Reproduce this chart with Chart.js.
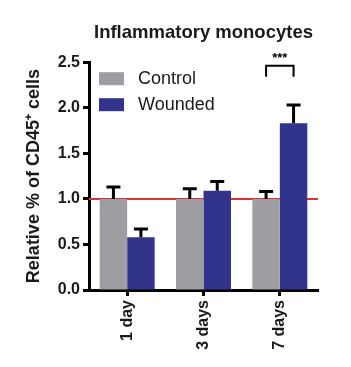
<!DOCTYPE html>
<html>
<head>
<meta charset="utf-8">
<script src="https://cdn.jsdelivr.net/npm/chart.js@4/dist/chart.umd.min.js"></script>
<style>
  body { margin: 0; background: #fff; }
  #wrap { width: 351px; height: 367px; position: relative; }
</style>
</head>
<body>
<div id="wrap"><canvas id="myChart"></canvas></div>
<script>
  const categories = ['1 day', '3 days', '7 days'];
  const control = [1.0, 1.0, 1.0];
  const controlErr = [0.13, 0.11, 0.08];
  const wounded = [0.58, 1.09, 1.83];
  const woundedErr = [0.09, 0.10, 0.20];
  const yTicks = [0, 0.5, 1.0, 1.5, 2.0, 2.5];
  const refLevel = 1.0;
  // significance bracket on 7 days
  const sigIndex = 2;
  const sigTop = 2.46, sigLeg = 2.34, sigText = '***';

  const FONT = '"Liberation Sans", Arial, sans-serif';

  const extras = {
    id: 'extras',
    beforeDatasetsDraw(chart) {
      const { ctx, chartArea, scales: { y } } = chart;
      const yp = y.getPixelForValue(refLevel);
      ctx.save();
      ctx.strokeStyle = '#dc3236';
      ctx.lineWidth = 2;
      ctx.beginPath();
      ctx.moveTo(chartArea.left, yp);
      ctx.lineTo(chartArea.right, yp);
      ctx.stroke();
      ctx.restore();
    },
    afterDatasetsDraw(chart) {
      const { ctx, scales: { y } } = chart;
      const errs = [controlErr, woundedErr];
      ctx.save();
      ctx.strokeStyle = '#000';
      ctx.lineWidth = 3;
      chart.data.datasets.forEach((ds, di) => {
        const meta = chart.getDatasetMeta(di);
        meta.data.forEach((bar, i) => {
          const top = y.getPixelForValue(ds.data[i] + errs[di][i]);
          const base = y.getPixelForValue(ds.data[i]);
          ctx.beginPath();
          ctx.moveTo(bar.x, base);
          ctx.lineTo(bar.x, top);
          ctx.moveTo(bar.x - 7, top);
          ctx.lineTo(bar.x + 7, top);
          ctx.stroke();
        });
      });
      ctx.restore();

      // bracket
      const b1 = chart.getDatasetMeta(0).data[sigIndex];
      const b2 = chart.getDatasetMeta(1).data[sigIndex];
      const yt = y.getPixelForValue(sigTop), yl = y.getPixelForValue(sigLeg);
      ctx.save();
      ctx.strokeStyle = '#000';
      ctx.lineWidth = 2;
      ctx.beginPath();
      ctx.moveTo(b1.x, yl);
      ctx.lineTo(b1.x, yt);
      ctx.lineTo(b2.x, yt);
      ctx.lineTo(b2.x, yl);
      ctx.stroke();
      ctx.fillStyle = '#000';
      ctx.font = 'bold 13px ' + FONT;
      ctx.textAlign = 'center';
      ctx.textBaseline = 'bottom';
      ctx.fillText(sigText, (b1.x + b2.x) / 2, yt - 1);
      ctx.restore();

      // legend inside the plot
      const lx = chart.chartArea.left + 10;
      const ly = chart.chartArea.top + 10;
      ctx.save();
      ctx.font = '18px ' + FONT;
      ctx.textBaseline = 'middle';
      chart.data.datasets.forEach((ds, di) => {
        const top = ly + di * 26;
        ctx.fillStyle = ds.backgroundColor;
        ctx.fillRect(lx, top, 25, 13);
        ctx.fillStyle = '#1a1a1a';
        ctx.fillText(ds.label, lx + 39, top + 7);
      });
      ctx.restore();
    }
  };

  const ctx = document.getElementById('myChart');
  new Chart(ctx, {
    type: 'bar',
    data: {
      labels: categories,
      datasets: [{
        label: 'Control',
        data: control,
        backgroundColor: '#9e9ea2',
        categoryPercentage: 0.72,
        barPercentage: 1.0
      }, {
        label: 'Wounded',
        data: wounded,
        backgroundColor: '#32348c',
        categoryPercentage: 0.72,
        barPercentage: 1.0
      }]
    },
    options: {
      responsive: true,
      maintainAspectRatio: false,
      animation: false,
      layout: { padding: { left: 0, right: 33, top: 0, bottom: 0 } },
      plugins: {
        legend: { display: false },
        tooltip: { enabled: false },
        title: {
          display: true,
          fullSize: false,
          text: 'Inflammatory monocytes',
          color: '#1a1a1a',
          font: { family: FONT, size: 18.5, weight: 'bold' },
          padding: { top: 22, bottom: 18 }
        }
      },
      scales: {
        x: {
          afterFit(s) { s.height = 77; },
          grid: {
            display: true,
            drawOnChartArea: false,
            tickLength: 6,
            tickWidth: 3,
            tickColor: '#000',
            offset: false
          },
          border: { display: true, color: '#000', width: 3 },
          ticks: {
            color: '#1a1a1a',
            minRotation: 90,
            maxRotation: 90,
            padding: 4,
            font: { family: FONT, size: 16, weight: 'bold' }
          }
        },
        y: {
          min: 0,
          max: 2.5,
          afterFit(s) { s.width = 89; },
          afterBuildTicks(s) { s.ticks = yTicks.map(v => ({ value: v })); },
          grid: {
            display: true,
            drawOnChartArea: false,
            tickLength: 6,
            tickWidth: 3,
            tickColor: '#000'
          },
          border: { display: true, color: '#000', width: 3 },
          ticks: {
            color: '#1a1a1a',
            padding: 3,
            font: { family: FONT, size: 16, weight: 'bold' },
            callback: v => Number(v).toFixed(1)
          },
          title: {
            display: true,
            text: 'Relative % of CD45\u207A cells',
            color: '#1a1a1a',
            font: { family: FONT, size: 18, weight: 'bold' },
            padding: { top: 23, bottom: 0 }
          }
        }
      }
    },
    plugins: [extras]
  });
</script>
</body>
</html>
